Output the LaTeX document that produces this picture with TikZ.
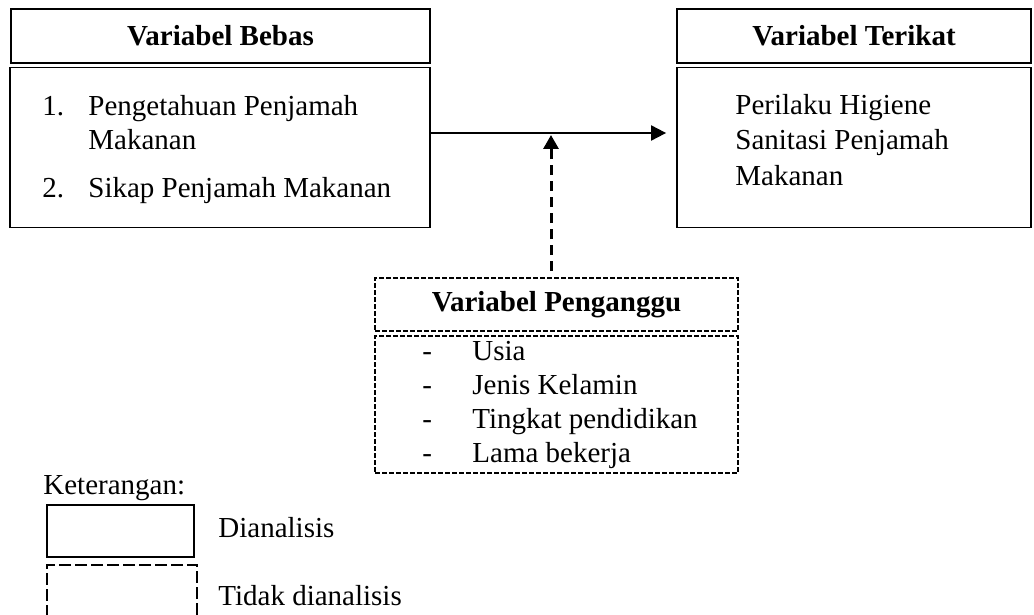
\documentclass[tikz,border=0pt]{standalone}
\usepackage{fontspec}
\setmainfont{Liberation Serif}
\usetikzlibrary{arrows.meta}
\begin{document}
\begin{tikzpicture}[x=0.5pt,y=-0.5pt,
  txt/.style={font=\fontsize{14.5pt}{17pt}\selectfont, inner sep=0pt, anchor=base west},
  ttl/.style={font=\fontsize{14.5pt}{17pt}\selectfont\bfseries, inner sep=0pt},
  solidbox/.style={draw, line width=0.9pt, rectangle, inner sep=0pt},
  dbox/.style={draw, line width=0.8pt, rectangle, inner sep=0pt, dash pattern=on 2.5pt off 1pt},
  legdash/.style={draw, line width=1pt, rectangle, inner sep=0pt, dash pattern=on 6pt off 2pt},
  arr/.style={line width=1pt, -{Triangle[length=7.5pt,width=7.5pt]}},
  darr/.style={line width=1.5pt, dash pattern=on 5pt off 3pt, -{Triangle[length=7pt,width=7.5pt]}}
]
\useasboundingbox (0,0) rectangle (1034,615);

% Variabel Bebas
\node[solidbox, minimum width=209.5pt, minimum height=27pt] (ltitle) at (220.5,36) {};
\node[ttl] (ltitletext) at (220.5,36) {Variabel Bebas};
\node[solidbox, minimum width=210pt, minimum height=80pt] (lbody) at (220,147.5) {};
\node[txt] (l1n) at (42,116) {1.};
\node[txt] (l1a) at (88,116) {Pengetahuan Penjamah};
\node[txt] (l1b) at (88,150) {Makanan};
\node[txt] (l2n) at (42,198) {2.};
\node[txt] (l2a) at (88,198) {Sikap Penjamah Makanan};

% Variabel Terikat
\node[solidbox, minimum width=177pt, minimum height=27pt] (rtitle) at (854,36) {};
\node[ttl] (rtitletext) at (854,36) {Variabel Terikat};
\node[solidbox, minimum width=177pt, minimum height=80pt] (rbody) at (854,147.5) {};
\node[txt] (r1) at (735,115) {Perilaku Higiene};
\node[txt] (r2) at (735,150) {Sanitasi Penjamah};
\node[txt] (r3) at (735,185) {Makanan};

% Variabel Penganggu
\node[dbox, minimum width=181.5pt, minimum height=26.5pt] (ptitle) at (556.5,304.5) {};
\node[ttl] (ptitletext) at (556.5,304.5) {Variabel Penganggu};
\node[dbox, minimum width=181.5pt, minimum height=68.5pt] (pbody) at (556.5,404.5) {};
\node[txt] (pd1) at (422,360) {-};
\node[txt] (pt1) at (472,360) {Usia};
\node[txt] (pd2) at (422,394) {-};
\node[txt] (pt2) at (472,394) {Jenis Kelamin};
\node[txt] (pd3) at (422,428) {-};
\node[txt] (pt3) at (472,428) {Tingkat pendidikan};
\node[txt] (pd4) at (422,462) {-};
\node[txt] (pt4) at (472,462) {Lama bekerja};

% connectors
\coordinate (mid) at (551,133);
\draw[arr, shorten >=5pt] (lbody.east |- mid) -- (rbody.west |- mid);
\draw[darr, shorten <=3pt, shorten >=1pt] (ptitle.north -| mid) -- (mid);

% legend
\node[txt] (ket) at (43,494) {Keterangan:};
\node[solidbox, minimum width=73.5pt, minimum height=26pt] (leg1) at (120.5,531) {};
\node[txt] (leg1t) at (218,537) {Dianalisis};
\node[legdash, minimum width=75pt, minimum height=30pt] (leg2) at (122,595) {};
\node[txt] (leg2t) at (218,605) {Tidak dianalisis};
\end{tikzpicture}
\end{document}
